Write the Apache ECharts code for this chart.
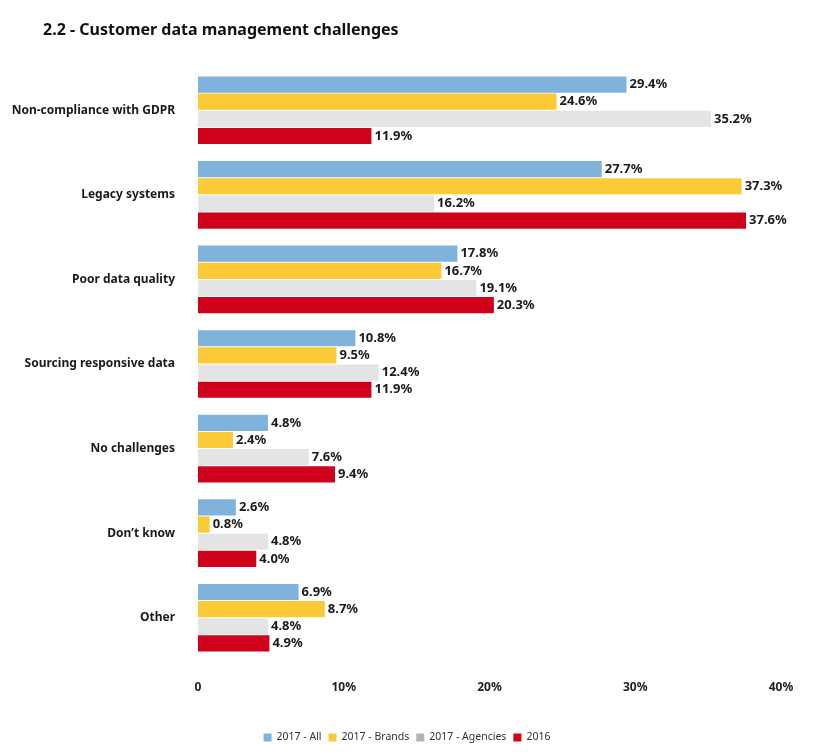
<!DOCTYPE html>
<html>
<head>
<meta charset="utf-8">
<script src="https://cdn.jsdelivr.net/npm/echarts@6/dist/echarts.min.js"></script>
<style>
  html, body { margin: 0; padding: 0; background: #fff; }
  #chart { width: 814px; height: 755px; }
</style>
</head>
<body>
<div id="chart"></div>
<script>
var categories = [
  'Non-compliance with GDPR',
  'Legacy systems',
  'Poor data quality',
  'Sourcing responsive data',
  'No challenges',
  'Don\u2019t know',
  'Other'
];
var seriesNames = ['2017 - All', '2017 - Brands', '2017 - Agencies', '2016'];
var all2017 = [29.4, 27.7, 17.8, 10.8, 4.8, 2.6, 6.9];
var brands2017 = [24.6, 37.3, 16.7, 9.5, 2.4, 0.8, 8.7];
var agencies2017 = [35.2, 16.2, 19.1, 12.4, 7.6, 4.8, 4.8];
var all2016 = [11.9, 37.6, 20.3, 11.9, 9.4, 4.0, 4.9];
var xTicks = [0, 10, 20, 30, 40];

var colors = ['#7fb3db', '#fbcb37', '#e4e4e4', '#d0021b'];
var legendColors = ['#7fb3db', '#fbcb37', '#b3b3b3', '#d0021b'];
var font = 'Noto Sans';

var myChart = echarts.init(document.getElementById('chart'));

var seriesData = [all2017, brands2017, agencies2017, all2016];
var series = seriesData.map(function (d, i) {
  return {
    type: 'bar',
    name: seriesNames[i],
    data: d,
    barGap: '6%',
    barCategoryGap: '20%',
    itemStyle: { color: colors[i] },
    label: {
      show: true,
      position: 'right',
      distance: 3,
      formatter: function (p) { return p.value.toFixed(1) + '%'; },
      fontFamily: font,
      fontWeight: 'bold',
      fontSize: 13,
      color: '#1a1a1a'
    }
  };
});

var option = {
  animation: false,
  color: colors,
  title: {
    text: '2.2 - Customer data management challenges',
    left: 38,
    top: 17,
    textStyle: {
      fontFamily: font,
      fontWeight: 'bold',
      fontSize: 16,
      color: '#111'
    }
  },
  legend: {
    bottom: 7,
    left: 'center',
    icon: 'rect',
    itemWidth: 8,
    itemHeight: 8,
    itemGap: 7,
    itemStyle: { borderWidth: 0 },
    data: seriesNames.map(function (n, i) {
      return { name: n, itemStyle: { color: legendColors[i] } };
    }),
    textStyle: {
      fontFamily: font,
      fontSize: 10.5,
      color: '#333'
    }
  },
  grid: {
    left: 198,
    right: 33,
    top: 68,
    bottom: 95
  },
  xAxis: {
    type: 'value',
    min: xTicks[0],
    max: xTicks[xTicks.length - 1],
    interval: 10,
    axisLine: { show: false },
    axisTick: { show: false },
    splitLine: { show: false },
    axisLabel: {
      margin: 22,
      fontFamily: font,
      fontWeight: 'bold',
      fontSize: 12,
      color: '#222',
      formatter: function (v) { return v === 0 ? '0' : v + '%'; }
    }
  },
  yAxis: {
    type: 'category',
    inverse: true,
    data: categories,
    axisLine: { show: false },
    axisTick: { show: false },
    axisLabel: {
      margin: 23,
      fontFamily: font,
      fontWeight: 'bold',
      fontSize: 12,
      color: '#1a1a1a'
    }
  },
  series: series
};

myChart.setOption(option);
</script>
</body>
</html>
